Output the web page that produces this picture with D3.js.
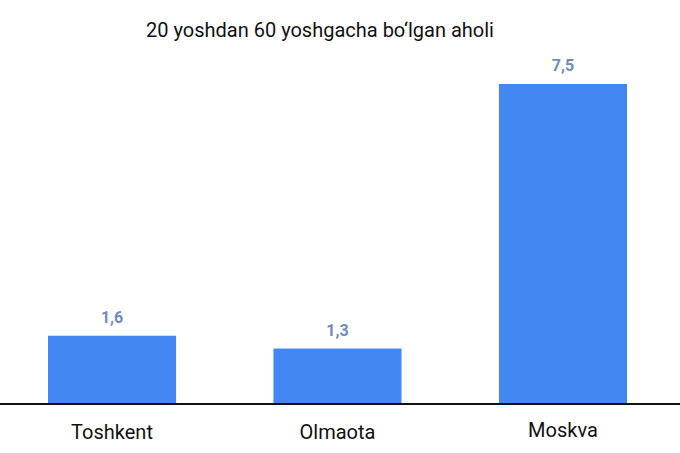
<!DOCTYPE html>
<html>
<head>
<meta charset="utf-8">
<script src="https://cdn.jsdelivr.net/npm/d3@7"></script>
<style>
  body { margin: 0; background: #fff; }
  text { font-family: Roboto, "Noto Sans", sans-serif; }
</style>
</head>
<body>
<svg id="chart" width="680" height="453"></svg>
<script>
const cities = ["Toshkent", "Olmaota", "Moskva"];
const values = [1.6, 1.3, 7.5];
const valueLabels = ["1,6", "1,3", "7,5"];

const svg = d3.select("#chart");
const baseY = 404;

const x = d3.scaleBand().domain(cities).range([48, 627]).paddingInner(0.432).paddingOuter(0);
const y = d3.scaleLinear().domain([0, 7.5]).range([baseY, 84]);

svg.append("text")
  .attr("x", 320)
  .attr("y", 37)
  .attr("text-anchor", "middle")
  .attr("font-size", 20)
  .attr("fill", "#111")
  .text("20 yoshdan 60 yoshgacha bo\u2018lgan aholi");

svg.selectAll("rect.bar")
  .data(values)
  .join("rect")
  .attr("class", "bar")
  .attr("x", (d, i) => x(cities[i]))
  .attr("width", x.bandwidth())
  .attr("y", d => y(d))
  .attr("height", d => baseY - y(d))
  .attr("fill", "#4387f3");

svg.selectAll("text.val")
  .data(values)
  .join("text")
  .attr("class", "val")
  .attr("x", (d, i) => x(cities[i]) + x.bandwidth() / 2)
  .attr("y", d => y(d) - 13)
  .attr("text-anchor", "middle")
  .attr("font-size", 16)
  .attr("font-weight", "bold")
  .attr("fill", "#6f8bbd")
  .text((d, i) => valueLabels[i]);

svg.append("line")
  .attr("x1", 0).attr("x2", 680)
  .attr("y1", baseY).attr("y2", baseY)
  .attr("stroke", "#111")
  .attr("stroke-width", 2);

svg.selectAll("text.cat")
  .data(cities)
  .join("text")
  .attr("class", "cat")
  .attr("x", d => x(d) + x.bandwidth() / 2)
  .attr("y", (d, i) => i === 2 ? 437 : 439)
  .attr("text-anchor", "middle")
  .attr("font-size", 20)
  .attr("fill", "#111")
  .text(d => d);
</script>
</body>
</html>
